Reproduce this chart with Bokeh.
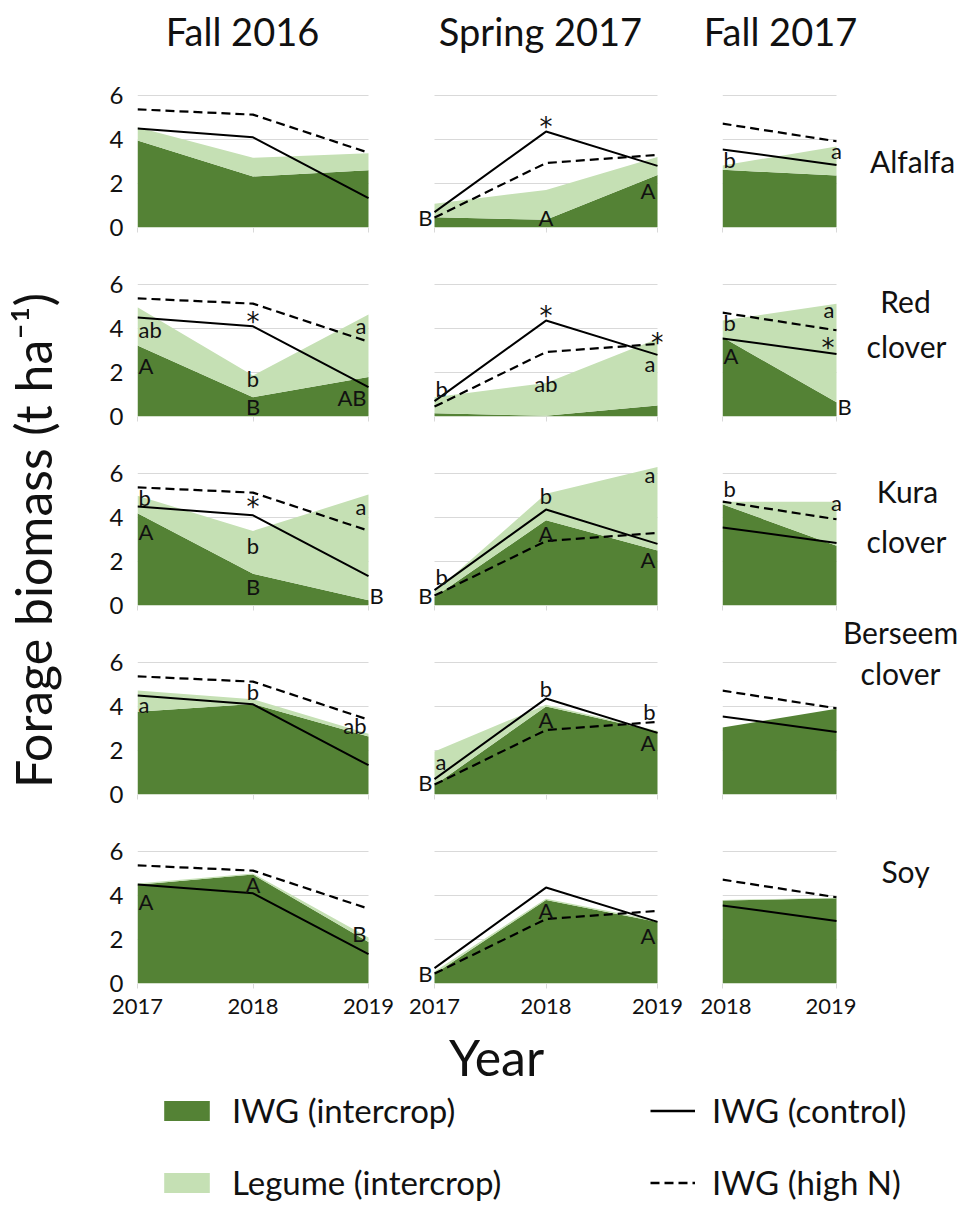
import math
from bokeh.plotting import figure
from bokeh.layouts import column, row
from bokeh.models import Range1d, FixedTicker, Label, Legend, LegendItem
from bokeh.core.properties import value
from bokeh.embed import file_html
from bokeh.resources import INLINE

FONT = "Lato"
STAR_FONT = "DejaVu Sans"
DARK = "#548235"
LIGHT = "#C5E0B4"
GRID = "#D9D9D9"
INK = "#111111"

# ---------------- data ----------------
season_titles = ["Fall 2016", "Spring 2017", "Fall 2017"]
years_f16 = [2017, 2018, 2019]
years_s17 = [2017, 2018, 2019]
years_f17 = [2018, 2019]
y_ticks = [0, 2, 4, 6]
crop_names = [["Alfalfa"], ["Red", "clover"], ["Kura", "clover"], ["Berseem", "clover"], ["Soy"]]
legend_labels = ["IWG (intercrop)", "Legume (intercrop)", "IWG (control)", "IWG (high N)"]

# IWG monoculture (same in every row)
ctrl_f16 = [4.50, 4.10, 1.33]
highn_f16 = [5.37, 5.13, 3.40]
ctrl_s17 = [0.70, 4.36, 2.80]
highn_s17 = [0.45, 2.93, 3.30]
ctrl_f17 = [3.55, 2.84]
highn_f17 = [4.72, 3.92]

# IWG (intercrop) and legume (intercrop, stacked on IWG)
alf_iwg_f16 = [3.95, 2.32, 2.60]; alf_leg_f16 = [0.61, 0.85, 0.78]
alf_iwg_s17 = [0.47, 0.35, 2.39]; alf_leg_s17 = [0.61, 1.36, 0.81]
alf_iwg_f17 = [2.62, 2.36];       alf_leg_f17 = [0.20, 1.32]
red_iwg_f16 = [3.23, 0.88, 1.79]; red_leg_f16 = [1.74, 0.98, 2.85]
red_iwg_s17 = [0.15, 0.03, 0.50]; red_leg_s17 = [0.73, 1.49, 3.03]
red_iwg_f17 = [3.60, 0.65];       red_leg_f17 = [0.76, 4.47]
kur_iwg_f16 = [4.19, 1.44, 0.24]; kur_leg_f16 = [0.80, 1.95, 4.80]
kur_iwg_s17 = [0.39, 3.87, 2.50]; kur_leg_s17 = [0.23, 1.21, 3.80]
kur_iwg_f17 = [4.60, 2.72];       kur_leg_f17 = [0.12, 2.00]
ber_iwg_f16 = [3.76, 4.11, 2.64]; ber_leg_f16 = [0.97, 0.22, 0.12]
ber_iwg_s17 = [0.42, 4.00, 2.86]; ber_leg_s17 = [1.53, 0.08, 0.04]
ber_iwg_f17 = [3.04, 3.90];       ber_leg_f17 = [0.00, 0.00]
soy_iwg_f16 = [4.49, 4.95, 1.89]; soy_leg_f16 = [0.05, 0.05, 0.20]
soy_iwg_s17 = [0.43, 3.80, 2.80]; soy_leg_s17 = [0.12, 0.05, 0.05]
soy_iwg_f17 = [3.77, 3.87];       soy_leg_f17 = [0.03, 0.03]

# significance letters: (text, year, value, side)
alf_let_f16 = []
alf_let_s17 = [("B", 2017, 0.45, "r"), ("*", 2018, 4.55, "c"), ("A", 2018, 0.45, "c"), ("A", 2019, 1.68, "r")]
alf_let_f17 = [("b", 2018, 3.08, "l"), ("a", 2019, 3.50, "c")]
red_let_f16 = [("ab", 2017, 3.94, "l"), ("A", 2017, 2.32, "l"), ("*", 2018, 4.30, "c"), ("b", 2018, 1.71, "c"),
               ("B", 2018, 0.47, "c"), ("a", 2019, 4.14, "r"), ("AB", 2019, 0.88, "r")]
red_let_s17 = [("b", 2017, 1.26, "l"), ("*", 2018, 4.59, "c"), ("ab", 2018, 1.52, "c"), ("*", 2019, 3.33, "c"),
               ("a", 2019, 2.39, "r")]
red_let_f17 = [("b", 2018, 4.29, "l"), ("A", 2018, 2.77, "l"), ("a", 2019, 4.85, "r"), ("*", 2019, 3.10, "r"),
               ("B", 2019, 0.45, "l")]
kur_let_f16 = [("b", 2017, 4.93, "l"), ("A", 2017, 3.36, "l"), ("*", 2018, 4.49, "c"), ("b", 2018, 2.74, "c"),
               ("B", 2018, 0.86, "c"), ("a", 2019, 4.50, "r"), ("B", 2019, 0.45, "l")]
kur_let_s17 = [("b", 2017, 1.33, "l"), ("B", 2017, 0.45, "r"), ("b", 2018, 4.98, "c"), ("A", 2018, 3.29, "c"),
               ("a", 2019, 5.94, "r"), ("A", 2019, 2.11, "r")]
kur_let_f17 = [("b", 2018, 5.30, "l"), ("a", 2019, 4.67, "c")]
ber_let_f16 = [("a", 2017, 4.07, "l"), ("b", 2018, 4.68, "c"), ("ab", 2019, 3.15, "r")]
ber_let_s17 = [("a", 2017, 1.52, "l"), ("B", 2017, 0.53, "r"), ("b", 2018, 4.80, "c"), ("A", 2018, 3.41, "c"),
               ("b", 2019, 3.79, "r"), ("A", 2019, 2.35, "r")]
ber_let_f17 = []
soy_let_f16 = [("A", 2017, 3.73, "l"), ("A", 2018, 4.49, "c"), ("B", 2019, 2.27, "r")]
soy_let_s17 = [("B", 2017, 0.47, "r"), ("A", 2018, 3.34, "c"), ("A", 2019, 2.19, "r")]
soy_let_f17 = []

# ---------------- layout config (pixels) ----------------
PAGE_W = 979
PAGE_H = 1209
LEFT_W = 100
TITLE_H = 73
Y_TOP = 6.5
# per column: left border, data width, extra frame left, extra frame right, right border
COLS = [(37, 231, 0, 18, 14), (16, 223, 18, 5, 38), (22, 114, 0, 20, 0)]
COL3_EXT_R = [20, 20, 20, 2, 20]
# per row: top border, frame height, bottom border
ROWS_MAIN = [(11, 143, 23), (23, 143, 23), (23, 143, 16), (30, 143, 23), (23, 143, 42)]
ROWS_C3 = [(11, 143, 23), (23, 143, 23), (23, 143, 7), (39, 143, 23), (23, 143, 42)]
title_xy = [(242, 30), (540, 30), (780, 30)]
crop_label_xy = [[(912, 160)],
                 [(905, 300), (906, 345)],
                 [(907, 490), (906, 540)],
                 [(900, 631), (900, 672)],
                 [(905, 870)]]

years_by_col = [years_f16, years_s17, years_f17]
ctrl_by_col = [ctrl_f16, ctrl_s17, ctrl_f17]
highn_by_col = [highn_f16, highn_s17, highn_f17]
iwg_table = [[alf_iwg_f16, alf_iwg_s17, alf_iwg_f17], [red_iwg_f16, red_iwg_s17, red_iwg_f17],
             [kur_iwg_f16, kur_iwg_s17, kur_iwg_f17], [ber_iwg_f16, ber_iwg_s17, ber_iwg_f17],
             [soy_iwg_f16, soy_iwg_s17, soy_iwg_f17]]
leg_table = [[alf_leg_f16, alf_leg_s17, alf_leg_f17], [red_leg_f16, red_leg_s17, red_leg_f17],
             [kur_leg_f16, kur_leg_s17, kur_leg_f17], [ber_leg_f16, ber_leg_s17, ber_leg_f17],
             [soy_leg_f16, soy_leg_s17, soy_leg_f17]]
let_table = [[alf_let_f16, alf_let_s17, alf_let_f17], [red_let_f16, red_let_s17, red_let_f17],
             [kur_let_f16, kur_let_s17, kur_let_f17], [ber_let_f16, ber_let_s17, ber_let_f17],
             [soy_let_f16, soy_let_s17, soy_let_f17]]


def no_align(f):
    try:
        f.frame_align = False
    except Exception:
        pass


def bare_figure(w, h, xr, yr):
    f = figure(width=w, height=h, x_range=Range1d(*xr), y_range=Range1d(*yr),
               output_backend="svg", toolbar_location=None, min_border=0,
               x_axis_location=None, y_axis_location=None)
    f.outline_line_color = None
    f.grid.visible = False
    f.background_fill_color = None
    f.border_fill_color = None
    no_align(f)
    return f


def make_panel(ri, ci, rows_spec):
    left, dw, ext_l, ext_r, right = COLS[ci]
    if ci == 2:
        ext_r = COL3_EXT_R[ri]
    top, fh, bottom = rows_spec[ri]
    years = years_by_col[ci]
    ppu = dw / (years[-1] - years[0])
    x0 = years[0] - ext_l / ppu
    x1 = years[-1] + ext_r / ppu
    p = figure(width=left + ext_l + dw + ext_r + right, height=top + fh + bottom,
               x_range=Range1d(x0, x1), y_range=Range1d(0, Y_TOP),
               output_backend="svg", toolbar_location=None,
               min_border_left=left, min_border_right=right,
               min_border_top=top, min_border_bottom=bottom)
    p.outline_line_color = None
    p.background_fill_color = "white"
    p.border_fill_color = "white"
    p.xgrid.visible = False
    p.ygrid.ticker = FixedTicker(ticks=y_ticks)
    p.ygrid.grid_line_color = GRID
    p.ygrid.grid_line_width = 1
    try:
        p.ygrid.cross_bounds = (years[0], years[-1])
    except Exception:
        p.ygrid.visible = False
        p.multi_line(xs=[[years[0], years[-1]] for _ in y_ticks[1:]],
                     ys=[[t, t] for t in y_ticks[1:]], line_color=GRID, line_width=1)

    p.yaxis.ticker = FixedTicker(ticks=y_ticks)
    p.yaxis.axis_line_color = None
    p.yaxis.major_tick_line_color = None
    p.yaxis.minor_tick_line_color = None
    p.yaxis.major_label_text_font = FONT
    p.yaxis.major_label_text_font_size = "24px"
    p.yaxis.major_label_text_color = INK
    p.yaxis.major_label_standoff = 8
    if ci != 0:
        p.yaxis.visible = False

    p.xaxis.ticker = FixedTicker(ticks=years)
    p.xaxis.axis_line_color = None
    p.xaxis.major_tick_line_color = GRID
    p.xaxis.major_tick_out = 5
    p.xaxis.major_tick_in = 0
    p.xaxis.minor_tick_line_color = None
    p.xaxis.major_label_text_font = FONT
    if ri == len(rows_spec) - 1:
        p.xaxis.major_label_text_font_size = "22px"
        p.xaxis.major_label_text_color = INK
        p.xaxis.major_label_standoff = 10
    else:
        p.xaxis.major_label_text_font_size = "0px"
        p.xaxis.major_label_standoff = 0
        p.xaxis.major_label_text_color = None

    iwg = iwg_table[ri][ci]
    leg = leg_table[ri][ci]
    total = [a + b for a, b in zip(iwg, leg)]
    zeros = [0] * len(years)
    p.varea(x=years, y1=zeros, y2=iwg, fill_color=DARK)
    p.varea(x=years, y1=iwg, y2=total, fill_color=LIGHT)
    p.line(x=years, y=ctrl_by_col[ci], line_color="black", line_width=2)
    p.line(x=years, y=highn_by_col[ci], line_color="black", line_width=2.2, line_dash="9 5")

    for (t, x, y, side) in let_table[ri][ci]:
        align = {"l": "left", "r": "right", "c": "center"}[side]
        off = {"l": 1, "r": -2, "c": 0}[side]
        star = (t == "*")
        p.add_layout(Label(x=x, y=y, text=t, text_align=align, text_baseline="middle",
                           x_offset=off, text_font=STAR_FONT if star else FONT,
                           text_font_size="26px" if star else "22px", text_color=INK))
    return p


def make_row_label(ri, width, y_top, y_bot):
    x0 = PAGE_W - width
    f = bare_figure(width, y_bot - y_top, (x0, PAGE_W), (y_bot, y_top))
    for txt, (lx, ly) in zip(crop_names[ri], crop_label_xy[ri]):
        f.text(x=[lx], y=[ly], text=[txt], text_align="center", text_baseline="middle",
               text_font=value(FONT), text_font_size="30px", text_color=INK)
    return f


n_rows = len(ROWS_MAIN)
stack1 = column(*[make_panel(ri, 0, ROWS_MAIN) for ri in range(n_rows)])
stack2 = column(*[make_panel(ri, 1, ROWS_MAIN) for ri in range(n_rows)])
c1w = sum(COLS[0][:5])
c2w = sum(COLS[1][:5])
rows3 = []
y_cursor = TITLE_H
for ri in range(n_rows):
    p3 = make_panel(ri, 2, ROWS_C3)
    h = sum(ROWS_C3[ri])
    lab_w = PAGE_W - LEFT_W - c1w - c2w - p3.width
    lab = make_row_label(ri, lab_w, y_cursor, y_cursor + h)
    rows3.append(row(p3, lab))
    y_cursor += h
stack3 = column(*rows3)
grid_h = y_cursor

grid_w = PAGE_W - LEFT_W
title_fig = bare_figure(grid_w, TITLE_H, (LEFT_W, PAGE_W), (TITLE_H, 0))
title_fig.text(x=[xy[0] for xy in title_xy], y=[xy[1] for xy in title_xy], text=season_titles,
               text_align="center", text_baseline="middle", text_font=value(FONT),
               text_font_size="38px", text_color=INK)

# y axis title
ylab = bare_figure(LEFT_W, grid_h, (0, LEFT_W), (grid_h, 0))
ylab.text(x=[32], y=[540], text=["Forage biomass (t ha\u207b\u00b9)"], angle=math.pi / 2,
          text_align="center", text_baseline="middle", text_font=value(FONT),
          text_font_size="50px", text_color=INK)

# bottom: x title + legend
BOTTOM_H = PAGE_H - grid_h
bottom = bare_figure(PAGE_W, BOTTOM_H, (0, PAGE_W), (PAGE_H, grid_h))
bottom.text(x=[496], y=[grid_h + 31], text=["Year"], text_align="center", text_baseline="middle",
            text_font=value(FONT), text_font_size="50px", text_color=INK)

nan = float("nan")
r_iwg = bottom.quad(left=[nan], right=[nan], top=[nan], bottom=[nan], fill_color=DARK, line_color=None)
r_leg = bottom.quad(left=[nan], right=[nan], top=[nan], bottom=[nan], fill_color=LIGHT, line_color=None)
r_ctrl = bottom.line(x=[nan], y=[nan], line_color="black", line_width=2.5)
r_hn = bottom.line(x=[nan], y=[nan], line_color="black", line_width=2.5, line_dash="9 5")


def style_legend(lg, gw):
    lg.glyph_width = gw
    lg.glyph_height = 25
    lg.label_standoff = 17
    lg.label_text_font = FONT
    lg.label_text_font_size = "33px"
    lg.label_text_color = INK
    lg.label_height = 25
    lg.spacing = 32
    lg.padding = 0
    lg.margin = 0
    lg.border_line_color = None
    lg.background_fill_color = None


lg1 = Legend(items=[LegendItem(label=legend_labels[0], renderers=[r_iwg]),
                    LegendItem(label=legend_labels[1], renderers=[r_leg])], location=(158, 7))
lg2 = Legend(items=[LegendItem(label=legend_labels[2], renderers=[r_ctrl]),
                    LegendItem(label=legend_labels[3], renderers=[r_hn])], location=(650, 7))
style_legend(lg1, 57)
style_legend(lg2, 45)
bottom.add_layout(lg1)
bottom.add_layout(lg2)

layout = column(row(ylab, column(title_fig, row(stack1, stack2, stack3))), bottom)
open("out.html", "w").write(file_html(layout, INLINE))
